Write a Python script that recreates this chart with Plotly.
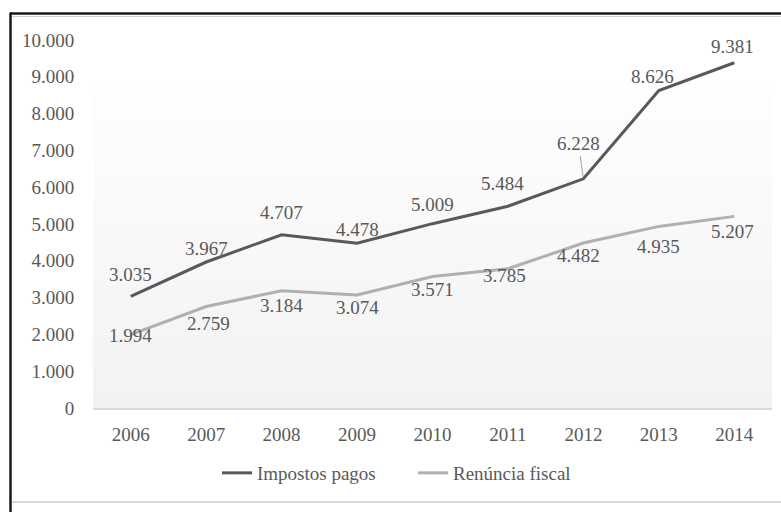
import plotly.graph_objects as go

# ---- data ----
years = ["2006", "2007", "2008", "2009", "2010", "2011", "2012", "2013", "2014"]
impostos_pagos = [3035, 3967, 4707, 4478, 5009, 5484, 6228, 8626, 9381]
renuncia_fiscal = [1994, 2759, 3184, 3074, 3571, 3785, 4482, 4935, 5207]
y_ticks = [0, 1000, 2000, 3000, 4000, 5000, 6000, 7000, 8000, 9000, 10000]

# ---- label offsets (style, in px) ----
imp_dx = [0, 0, 0, 0, 0, -5, -5, -6, -2]
imp_dy = [22, 14, 22, 14, 19, 23, 36, 14, 16]
ren_dx = [0, 2, 0, 0, 0, -3, -5, 0, -2]
ren_dy = [-1, -17, -15, -13, -13, -7, -12, -20, -15]

W, H = 781, 512
L, R, T, B = 93, 9, 40, 104
PW, PH = W - L - R, H - T - B

def px(x):
    return (x - L) / PW

def py(y):
    return (H - B - y) / PH

def fmt(v):
    return f"{v:,}".replace(",", ".")

TXT = "#595959"
FONT = "Liberation Serif"
FS = 19

fig = go.Figure()
fig.add_trace(go.Scatter(x=years, y=impostos_pagos, mode="lines", name="Impostos pagos",
                         line=dict(color="#595959", width=3)))
fig.add_trace(go.Scatter(x=years, y=renuncia_fiscal, mode="lines", name="Renúncia fiscal",
                         line=dict(color="#b0b0b0", width=3)))

annotations = []
for i, v in enumerate(impostos_pagos):
    if i == 6:
        annotations.append(dict(x=i, y=v, xref="x", yref="y", text=fmt(v), showarrow=True, arrowhead=0,
                                arrowwidth=0.8, arrowcolor="#8c8c8c", ax=-5, ay=-35,
                                standoff=3, font=dict(family=FONT, size=FS, color=TXT)))
    else:
        annotations.append(dict(x=i, y=v, xref="x", yref="y", text=fmt(v), showarrow=False,
                                xshift=imp_dx[i], yshift=imp_dy[i],
                                font=dict(family=FONT, size=FS, color=TXT)))
for i, v in enumerate(renuncia_fiscal):
    annotations.append(dict(x=i, y=v, xref="x", yref="y", text=fmt(v), showarrow=False,
                            xshift=ren_dx[i], yshift=ren_dy[i],
                            font=dict(family=FONT, size=FS, color=TXT)))

shapes = []
# subtle vertical gradient background
n = 40
g_top, g_bot = py(80), 0.0
for k in range(n):
    t = k / (n - 1)
    c = int(round(242 + (254 - 242) * t))
    y0 = g_bot + (g_top - g_bot) * k / n
    y1 = g_bot + (g_top - g_bot) * (k + 1) / n
    shapes.append(dict(type="rect", xref="paper", yref="paper", x0=0, x1=1, y0=y0, y1=y1,
                       fillcolor=f"rgb({c},{c},{c})", line=dict(width=0), layer="below"))
# chart frame
shapes.append(dict(type="line", xref="paper", yref="paper", x0=px(10), x1=px(781), y0=py(13.5), y1=py(13.5),
                   line=dict(color="#1a1a1a", width=2.5)))
shapes.append(dict(type="line", xref="paper", yref="paper", x0=px(12), x1=px(781), y0=py(16.5), y1=py(16.5),
                   line=dict(color="#d0d0d0", width=1.2)))
shapes.append(dict(type="line", xref="paper", yref="paper", x0=px(10.5), x1=px(10.5), y0=py(12.5), y1=py(512),
                   line=dict(color="#1a1a1a", width=2.5)))
shapes.append(dict(type="line", xref="paper", yref="paper", x0=px(12), x1=px(781), y0=py(502), y1=py(502),
                   line=dict(color="#d9d9d9", width=2)))

fig.update_layout(
    width=W, height=H,
    margin=dict(l=L, r=R, t=T, b=B),
    paper_bgcolor="white", plot_bgcolor="rgba(0,0,0,0)",
    separators=",.",
    font=dict(family=FONT, size=FS, color=TXT),
    shapes=shapes,
    annotations=annotations,
    showlegend=True,
    legend=dict(orientation="h", x=px(217), xanchor="left", y=py(473), yanchor="middle",
                font=dict(family=FONT, size=FS, color=TXT), bgcolor="rgba(0,0,0,0)",
                itemwidth=30, entrywidth=151, entrywidthmode="pixels", tracegroupgap=0),
    xaxis=dict(type="category", range=[-0.5, 8.5], showgrid=False, zeroline=False,
               showline=True, linecolor="#d9d9d9", linewidth=1.5,
               ticks="outside", ticklen=8, tickcolor="rgba(0,0,0,0)",
               tickfont=dict(family=FONT, size=FS, color=TXT)),
    yaxis=dict(range=[0, 10000], tickvals=y_ticks, ticktext=[fmt(v) for v in y_ticks],
               showgrid=False, zeroline=False, showline=False,
               ticks="outside", ticklen=14, tickcolor="rgba(0,0,0,0)",
               tickfont=dict(family=FONT, size=FS, color=TXT)),
)

fig.write_html("out.html", config={"displayModeBar": False},
               post_script="document.body.style.margin='0';document.body.style.padding='0';")
